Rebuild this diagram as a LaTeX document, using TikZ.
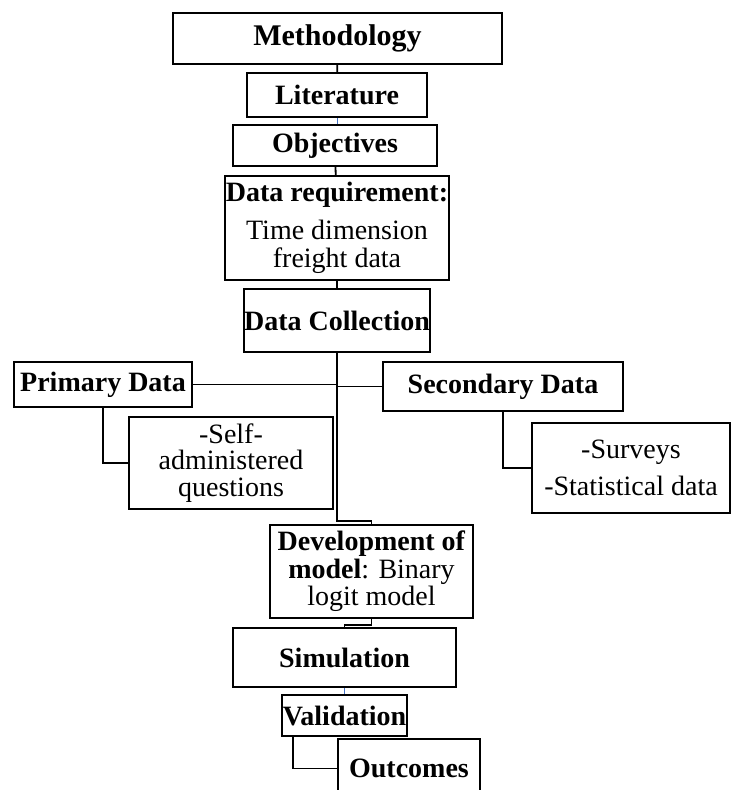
\documentclass[tikz,border=0pt]{standalone}
\usepackage{fontspec}
\setmainfont{Liberation Serif}
\definecolor{linkblue}{RGB}{68,114,196}
\begin{document}
\begin{tikzpicture}[x=1pt,y=-1pt,
    box/.style={draw,line width=1.8pt,inner sep=0pt,align=center,
      font=\fontsize{28}{28}\selectfont},
    link/.style={line width=1.8pt}]
  \useasboundingbox (0,0) rectangle (731,790);
  \draw
    (337.5,38.5) node[box,minimum width=329pt,minimum height=51pt,font=\fontsize{30}{30}\selectfont] (meth){\textbf{Methodology}}
    (337,95) node[box,minimum width=180pt,minimum height=44pt] (lit){\textbf{Literature}}
    (335,145.5) node[box,minimum width=204pt,minimum height=41pt] (obj){\textbf{Objectives}}
    (337,228) node[box,minimum width=224pt,minimum height=104pt] (req){\textbf{Data requirement:}\\[10pt]Time dimension\\freight data}
    (337,320.5) node[box,minimum width=186pt,minimum height=63pt] (coll){\textbf{Data Collection}}
    (103,384.5) node[box,minimum width=178pt,minimum height=45pt] (prim){\textbf{Primary Data}}
    (503,386.5) node[box,minimum width=240pt,minimum height=49pt] (sec){\textbf{Secondary Data}}
    (231,463) node[box,minimum width=204pt,minimum height=92pt,font=\fontsize{28}{26.5}\selectfont] (self){-Self-\\administered\\questions}
    (631,468) node[box,minimum width=198pt,minimum height=90pt] (surv){-Surveys\\[9pt]-Statistical data}
    (371.5,571.5) node[box,minimum width=203pt,minimum height=93pt,font=\fontsize{28}{27.5}\selectfont] (dev){\textbf{Development of}\\\textbf{model}: Binary\\logit model}
    (344.5,657.5) node[box,minimum width=223pt,minimum height=59pt] (sim){\textbf{Simulation}}
    (344.5,715.5) node[box,minimum width=125pt,minimum height=41pt] (val){\textbf{Validation}}
    (409,768.5) node[box,minimum width=142pt,minimum height=59pt] (out){\textbf{Outcomes}};
  \begin{scope}[link]
    \draw (meth) to (lit);
    \draw[linkblue,line width=1pt] (obj.north -| lit.south) to (lit.south);
    \draw (obj) to (req);
    \draw (req) to (coll);
    \draw (coll.south) -- ++(0,168) -| (dev.north);
    \draw (prim.east) -- (prim.east -| coll.south);
    \draw (sec.west) -- (sec.west -| coll.south);
    \draw (prim.south) |- (self.west);
    \draw (sec.south) |- (surv.west);
    \draw (dev.south) -- ++(0,6) -| (sim.north);
    \draw[linkblue,line width=1pt] (sim) to (val);
    \draw ([xshift=12pt]val.south west) |- (out.west);
  \end{scope}
\end{tikzpicture}
\end{document}
